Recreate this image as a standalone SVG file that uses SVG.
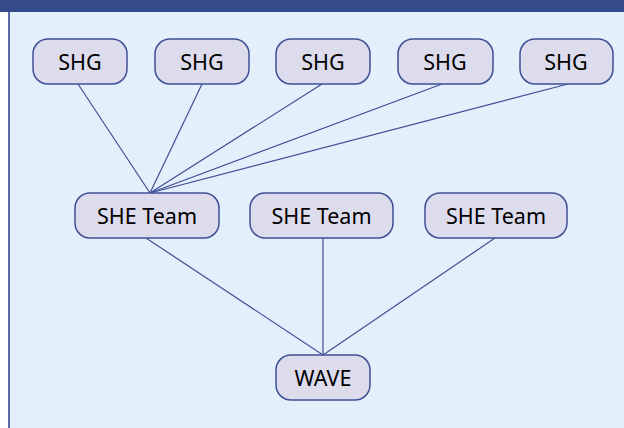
<svg xmlns="http://www.w3.org/2000/svg" width="624" height="428" viewBox="0 0 624 428">
<style>
.node rect{fill:#dddcec;stroke:#3f4f95;stroke-width:1.5}
.node text{font-family:"Noto Sans","Open Sans","DejaVu Sans",sans-serif;font-size:21.5px;fill:#000;text-anchor:middle}
#edges line{stroke:#3f4f95;stroke-width:1.2}
</style>
<rect x="0" y="0" width="624" height="428" fill="#ffffff"/>
<rect x="9" y="12" width="615" height="416" fill="#e3effb"/>
<line x1="9" y1="12" x2="9" y2="428" stroke="#5b6aa8" stroke-width="2"/>
<rect x="0" y="0" width="624" height="12" fill="#354a8a"/>
<g id="edges">
<line x1="78" y1="84" x2="150" y2="193"/>
<line x1="202" y1="84" x2="150" y2="193"/>
<line x1="322" y1="84" x2="150" y2="193"/>
<line x1="442" y1="84" x2="150" y2="193"/>
<line x1="568" y1="84" x2="150" y2="193"/>
<line x1="146" y1="238" x2="323" y2="355"/>
<line x1="323" y1="238" x2="323" y2="355"/>
<line x1="495" y1="238" x2="323" y2="355"/>
</g>
<g id="shg1" class="node"><rect x="33" y="39" width="94" height="45" rx="15"/><text x="80" y="69.5">SHG</text></g>
<g id="shg2" class="node"><rect x="155" y="39" width="94" height="45" rx="15"/><text x="202" y="69.5">SHG</text></g>
<g id="shg3" class="node"><rect x="276" y="39" width="94" height="45" rx="15"/><text x="323" y="69.5">SHG</text></g>
<g id="shg4" class="node"><rect x="398" y="39" width="95" height="45" rx="15"/><text x="445" y="69.5">SHG</text></g>
<g id="shg5" class="node"><rect x="520" y="39" width="93" height="45" rx="15"/><text x="566" y="69.5">SHG</text></g>
<g id="she1" class="node"><rect x="75" y="193" width="144" height="45" rx="15"/><text x="147" y="223.5">SHE Team</text></g>
<g id="she2" class="node"><rect x="250" y="193" width="143" height="45" rx="15"/><text x="321.5" y="223.5">SHE Team</text></g>
<g id="she3" class="node"><rect x="425" y="193" width="142" height="45" rx="15"/><text x="496" y="223.5">SHE Team</text></g>
<g id="wave" class="node"><rect x="276" y="355" width="94" height="45" rx="15"/><text x="323" y="385.5">WAVE</text></g>
</svg>
